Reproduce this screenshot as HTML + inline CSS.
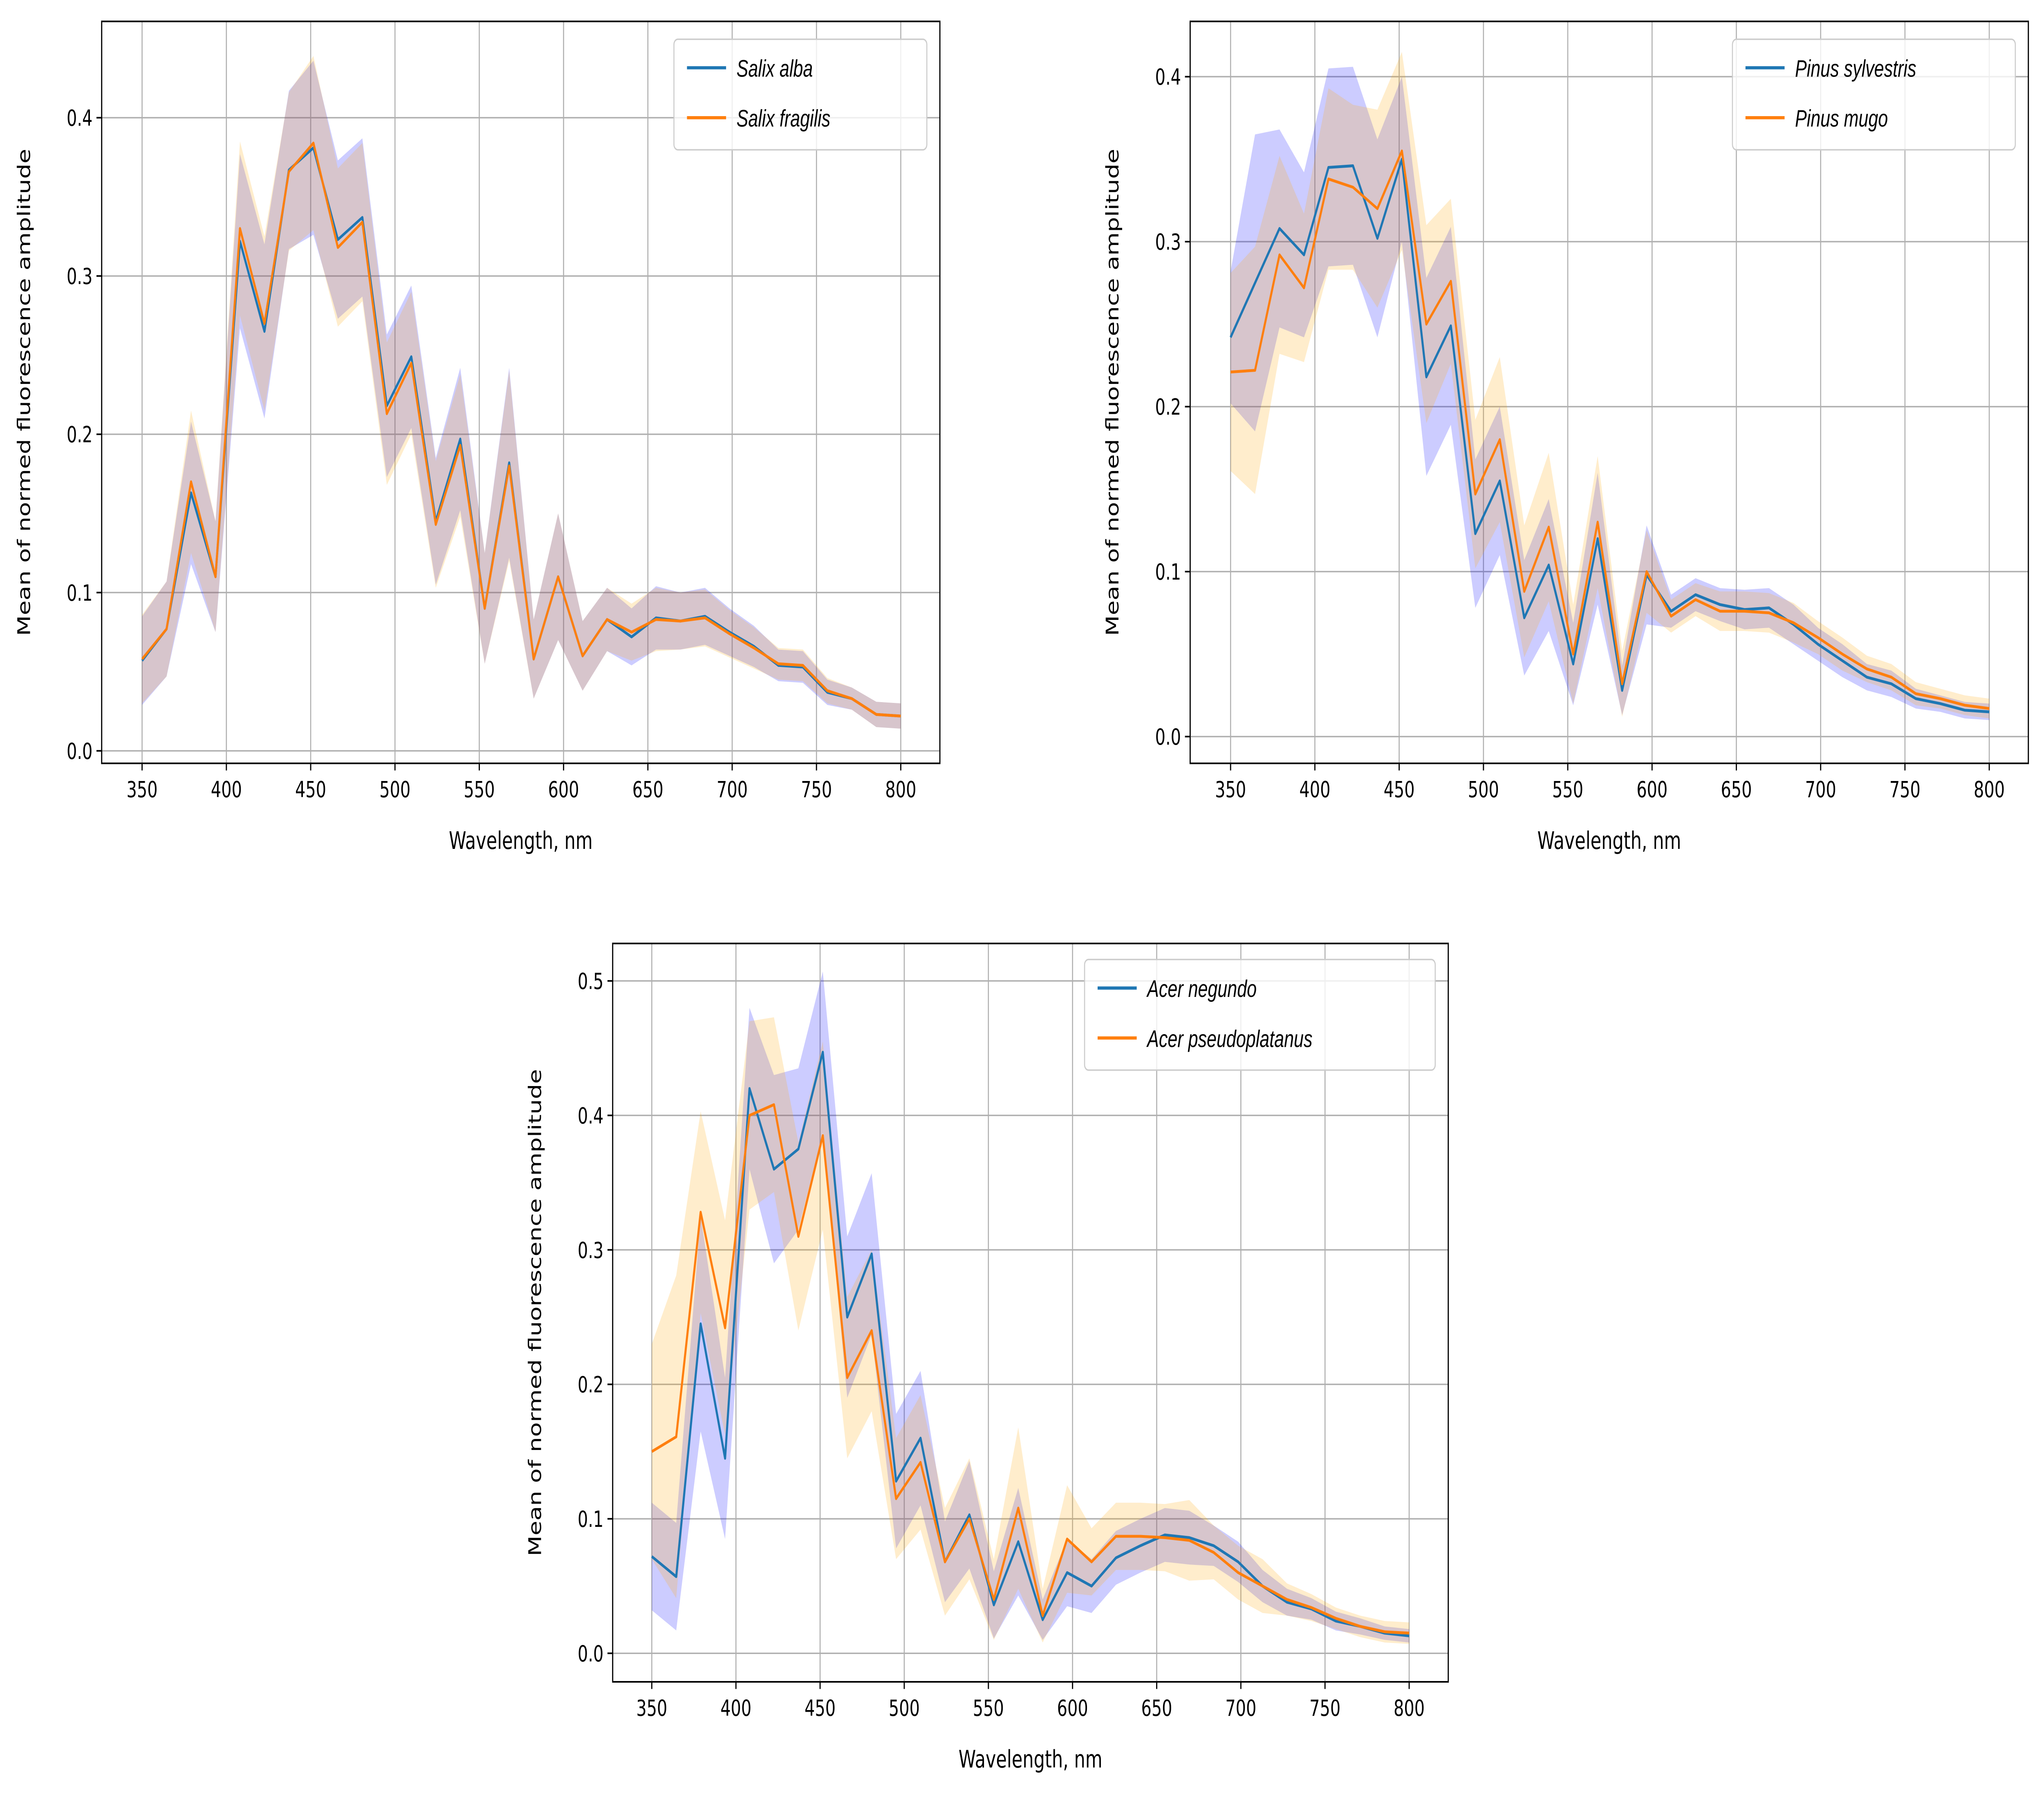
<!DOCTYPE html>
<html><head><meta charset="utf-8"><meta name="viewport" content="width=6839, initial-scale=1"><style>
html,body{margin:0;padding:0;background:#fff;width:100%;height:100%;overflow:hidden;}
svg{display:block;position:fixed;left:0;top:0;width:100vw;height:100vh;}
text{font-family:"DejaVu Sans","Liberation Sans",sans-serif;fill:#000;}
.leg{font-family:"Liberation Sans",sans-serif;font-style:italic;}
</style></head><body>
<svg id="fig" xmlns="http://www.w3.org/2000/svg" viewBox="0 0 1568 1014.3" preserveAspectRatio="none"></svg>
<script>
const wavelengths = Array.from({length:32},(_, i)=>350 + i*450/31);
const xTicks = [350,400,450,500,550,600,650,700,750,800];

const salixAlba = [0.057,0.077,0.163,0.110,0.322,0.265,0.367,0.381,0.323,0.337,0.218,0.249,0.145,0.197,0.090,0.182,0.058,0.110,0.060,0.083,0.072,0.084,0.082,0.085,0.075,0.066,0.054,0.053,0.037,0.033,0.023,0.022];
const salixFragilis = [0.058,0.077,0.170,0.110,0.330,0.270,0.366,0.384,0.318,0.334,0.213,0.245,0.143,0.193,0.090,0.180,0.058,0.110,0.060,0.083,0.075,0.083,0.082,0.084,0.074,0.065,0.055,0.054,0.038,0.033,0.023,0.022];
const salixStd = [0.028,0.03,0.045,0.035,0.055,0.055,0.05,0.055,0.05,0.05,0.045,0.045,0.04,0.045,0.035,0.06,0.025,0.04,0.022,0.02,0.018,0.02,0.018,0.018,0.015,0.013,0.01,0.01,0.008,0.007,0.008,0.008];

const pinusSylvestris = [0.242,0.275,0.308,0.292,0.345,0.346,0.302,0.350,0.218,0.249,0.123,0.155,0.072,0.104,0.044,0.120,0.028,0.098,0.076,0.086,0.080,0.077,0.078,0.068,0.056,0.046,0.036,0.032,0.023,0.020,0.016,0.015];
const pinusMugo = [0.221,0.222,0.292,0.272,0.338,0.333,0.320,0.355,0.250,0.276,0.147,0.180,0.088,0.127,0.050,0.130,0.032,0.100,0.073,0.083,0.076,0.076,0.075,0.069,0.060,0.050,0.041,0.036,0.026,0.023,0.019,0.017];
const pinusSylvestrisStd = [0.04,0.09,0.06,0.05,0.06,0.06,0.06,0.05,0.06,0.06,0.045,0.045,0.035,0.04,0.025,0.04,0.015,0.03,0.01,0.01,0.01,0.012,0.012,0.012,0.01,0.01,0.008,0.008,0.006,0.005,0.005,0.005];
const pinusMugoStd = [0.06,0.075,0.06,0.045,0.055,0.05,0.06,0.06,0.06,0.05,0.045,0.05,0.04,0.045,0.03,0.04,0.02,0.025,0.01,0.01,0.012,0.012,0.012,0.012,0.01,0.01,0.008,0.008,0.007,0.006,0.006,0.006];

const acerNegundo = [0.072,0.057,0.245,0.145,0.420,0.360,0.375,0.447,0.250,0.297,0.128,0.160,0.068,0.103,0.036,0.083,0.025,0.060,0.050,0.071,0.080,0.088,0.086,0.080,0.068,0.050,0.038,0.033,0.024,0.020,0.015,0.013];
const acerPseudoplatanus = [0.150,0.161,0.328,0.242,0.400,0.408,0.310,0.385,0.205,0.240,0.115,0.142,0.068,0.100,0.040,0.108,0.028,0.085,0.068,0.087,0.087,0.086,0.084,0.075,0.060,0.050,0.040,0.034,0.026,0.020,0.016,0.015];
const acerNegundoStd = [0.04,0.04,0.08,0.06,0.06,0.07,0.06,0.06,0.06,0.06,0.05,0.05,0.03,0.04,0.025,0.04,0.015,0.025,0.02,0.02,0.02,0.02,0.02,0.015,0.015,0.012,0.01,0.008,0.007,0.006,0.005,0.005];
const acerPseudoplatanusStd = [0.08,0.12,0.075,0.08,0.07,0.065,0.07,0.07,0.06,0.06,0.045,0.05,0.04,0.045,0.03,0.06,0.02,0.04,0.025,0.025,0.025,0.025,0.03,0.02,0.02,0.02,0.012,0.01,0.008,0.008,0.008,0.008];

const NS='http://www.w3.org/2000/svg';
const svg=document.getElementById('fig');
function mk(tag,attrs,parent){const e=document.createElementNS(NS,tag);for(const k in attrs)e.setAttribute(k,attrs[k]);(parent||svg).appendChild(e);return e;}

function panel(cfg){
  const g=mk('g',{});
  
  
  const {L,R,T,B,x0px,x1px,y0px,yUnit}=cfg;
  const xs=v=>x0px+(v-350)*(x1px-x0px)/450;
  const ys=v=>y0px-v*yUnit;
  xTicks.forEach(t=>{const l=mk('line',{x1:xs(t),x2:xs(t),y1:T,y2:B,stroke:'#b0b0b0','stroke-width':0.8},g);
    });
  cfg.yTicks.forEach(t=>{const l=mk('line',{x1:L,x2:R,y1:ys(t),y2:ys(t),stroke:'#b0b0b0','stroke-width':0.8},g);
    });
  const cols=[['blue','#1f77b4'],['#ffa500','#ff7f0e']];
  cfg.series.forEach((s,i)=>{
    const up=s.v.map((v,j)=>xs(wavelengths[j])+','+ys(v+s.sd[j]));
    const lo=s.v.map((v,j)=>xs(wavelengths[j])+','+ys(v-s.sd[j])).reverse();
    const p=mk('polygon',{points:up.concat(lo).join(' '),fill:cols[i][0],'fill-opacity':0.2},g);
    
  });
  cfg.series.forEach((s,i)=>{
    const p=mk('polyline',{points:s.v.map((v,j)=>xs(wavelengths[j])+','+ys(v)).join(' '),fill:'none',stroke:cols[i][1],'stroke-width':1.6,'stroke-linejoin':'round'},g);
    
  });
  const fr=mk('rect',{x:L,y:T,width:R-L,height:B-T,fill:'none',stroke:'#000','stroke-width':0.9},g);
  
  xTicks.forEach(t=>{mk('line',{x1:xs(t),x2:xs(t),y1:B,y2:B+4,stroke:'#000','stroke-width':0.9},g);
    const tx=mk('text',{x:xs(t),y:B+19,'font-size':12.5,'text-anchor':'middle'},g);tx.textContent=t;
    });
  cfg.yTicks.forEach(t=>{mk('line',{x1:L-4,x2:L,y1:ys(t),y2:ys(t),stroke:'#000','stroke-width':0.9},g);
    const tx=mk('text',{x:L-7,y:ys(t)+4.5,'font-size':12.5,'text-anchor':'end'},g);tx.textContent=t.toFixed(1);
    });
  const xl=mk('text',{x:(L+R)/2,y:B+48,'font-size':13.5,'text-anchor':'middle'},g);xl.textContent='Wavelength, nm';
  
  const yl=mk('text',{x:0,y:0,'font-size':13.5,'text-anchor':'middle',transform:`translate(${L-55},${(T+B)/2}) rotate(-90)`},g);yl.textContent='Mean of normed fluorescence amplitude';
  
  const lg=mk('g',{},g);
  mk('rect',{x:cfg.lx,y:cfg.ly,width:cfg.lw,height:62,rx:3,fill:'#fff','fill-opacity':0.8,stroke:'#cccccc','stroke-width':0.8},lg);
  cfg.series.forEach((s,i)=>{const yy=cfg.ly+16+i*28;
    const e=mk('g',{},lg);
    mk('line',{x1:cfg.lx+10,x2:cfg.lx+40,y1:yy,y2:yy,stroke:cols[i][1],'stroke-width':1.8},e);
    const t=mk('text',{x:cfg.lx+48,y:yy+5,'font-size':13.5,class:'leg'},e);t.textContent=s.label;});
}
panel({name:'salix-chart',L:78,R:721,T:12,B:428,x0px:109,x1px:691,y0px:421,yUnit:887.5,yTicks:[0,0.1,0.2,0.3,0.4],lx:517,ly:22,lw:194,
  series:[{key:'salix-alba',label:'Salix alba',v:salixAlba,sd:salixStd},{key:'salix-fragilis',label:'Salix fragilis',v:salixFragilis,sd:salixStd}]});
panel({name:'pinus-chart',L:913,R:1556,T:12,B:428,x0px:944,x1px:1526,y0px:413,yUnit:925,yTicks:[0,0.1,0.2,0.3,0.4],lx:1329,ly:22,lw:217,
  series:[{key:'pinus-sylvestris',label:'Pinus sylvestris',v:pinusSylvestris,sd:pinusSylvestrisStd},{key:'pinus-mugo',label:'Pinus mugo',v:pinusMugo,sd:pinusMugoStd}]});
panel({name:'acer-chart',L:470,R:1111,T:529,B:943,x0px:500,x1px:1081,y0px:927,yUnit:754,yTicks:[0,0.1,0.2,0.3,0.4,0.5],lx:832,ly:538,lw:269,
  series:[{key:'acer-negundo',label:'Acer negundo',v:acerNegundo,sd:acerNegundoStd},{key:'acer-pseudoplatanus',label:'Acer pseudoplatanus',v:acerPseudoplatanus,sd:acerPseudoplatanusStd}]});
</script>
</body></html>
